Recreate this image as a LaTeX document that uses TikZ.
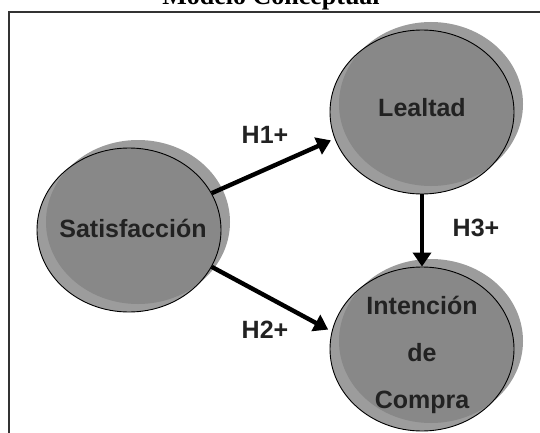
\documentclass[tikz,border=0pt]{standalone}
\usepackage{fontspec}
\setmainfont{Liberation Sans}[BoldFont={Liberation Sans Bold}]
\newfontfamily\labelfont{Liberation Sans Bold}
\newfontfamily\titlefont{Liberation Serif Bold}
\usetikzlibrary{shapes.geometric,arrows.meta}
\definecolor{bubdark}{HTML}{888888}
\definecolor{bublight}{HTML}{9C9C9C}
\definecolor{txtdark}{HTML}{222222}
\newcommand\mybubble[3]{%
  \fill[bublight] (#2+9,#3-8) ellipse [x radius=92pt, y radius=82pt];
  \fill[bublight] (#2,#3) ellipse [x radius=92pt, y radius=82pt];
  \begin{scope}
    \clip (#2,#3) ellipse [x radius=92pt, y radius=82pt];
    \fill[bubdark] (#2+9,#3-8) ellipse [x radius=92pt, y radius=82pt];
  \end{scope}
  \node[bub] (#1) at (#2,#3) {};
}
\begin{document}
\begin{tikzpicture}[x=1pt,y=-1pt,
  bub/.style={ellipse, draw=black, line width=0.9pt, minimum width=184pt, minimum height=164pt, inner sep=0pt},
  btext/.style={font=\labelfont\fontsize{25}{47}\selectfont, text=txtdark, align=center, inner sep=0pt},
  hlabel/.style={font=\labelfont\fontsize{25}{30}\selectfont, text=txtdark, inner sep=0pt},
  conn/.style={line width=4.4pt, -{Triangle[length=14pt,width=18pt]}},
  frame/.style={draw=black!80, line width=1.2pt}
]
\useasboundingbox (0,0) rectangle (540,433);
\node[font=\titlefont\fontsize{26}{30}\selectfont, anchor=base, inner sep=0pt] (title) at (271,4.5) {Modelo Conceptual};
\coordinate (fr1) at (9,433);
\coordinate (fr2) at (9,12);
\coordinate (fr3) at (541,12);
\draw[frame] (fr1) -- (fr2) -- (fr3);

\mybubble{sat}{129}{230}
\mybubble{lea}{422}{112}
\mybubble{int}{422}{349}

\node[btext] (satT) at (133,228) {Satisfacción};
\node[btext] (leaT) at (422,108) {Lealtad};
\node[btext] (intT) at (422,355) {Intención\\de\\Compra};

\draw[conn, shorten >=4pt] (sat.24) -- (lea.197);
\draw[conn, shorten >=4pt] (sat.-24) -- (int.169);
\draw[conn] (lea.south) -- (int.north);

\node[hlabel] (h1) at (265,135) {H1+};
\node[hlabel] (h2) at (265,330) {H2+};
\node[hlabel] (h3) at (476,228) {H3+};
\end{tikzpicture}
\end{document}
